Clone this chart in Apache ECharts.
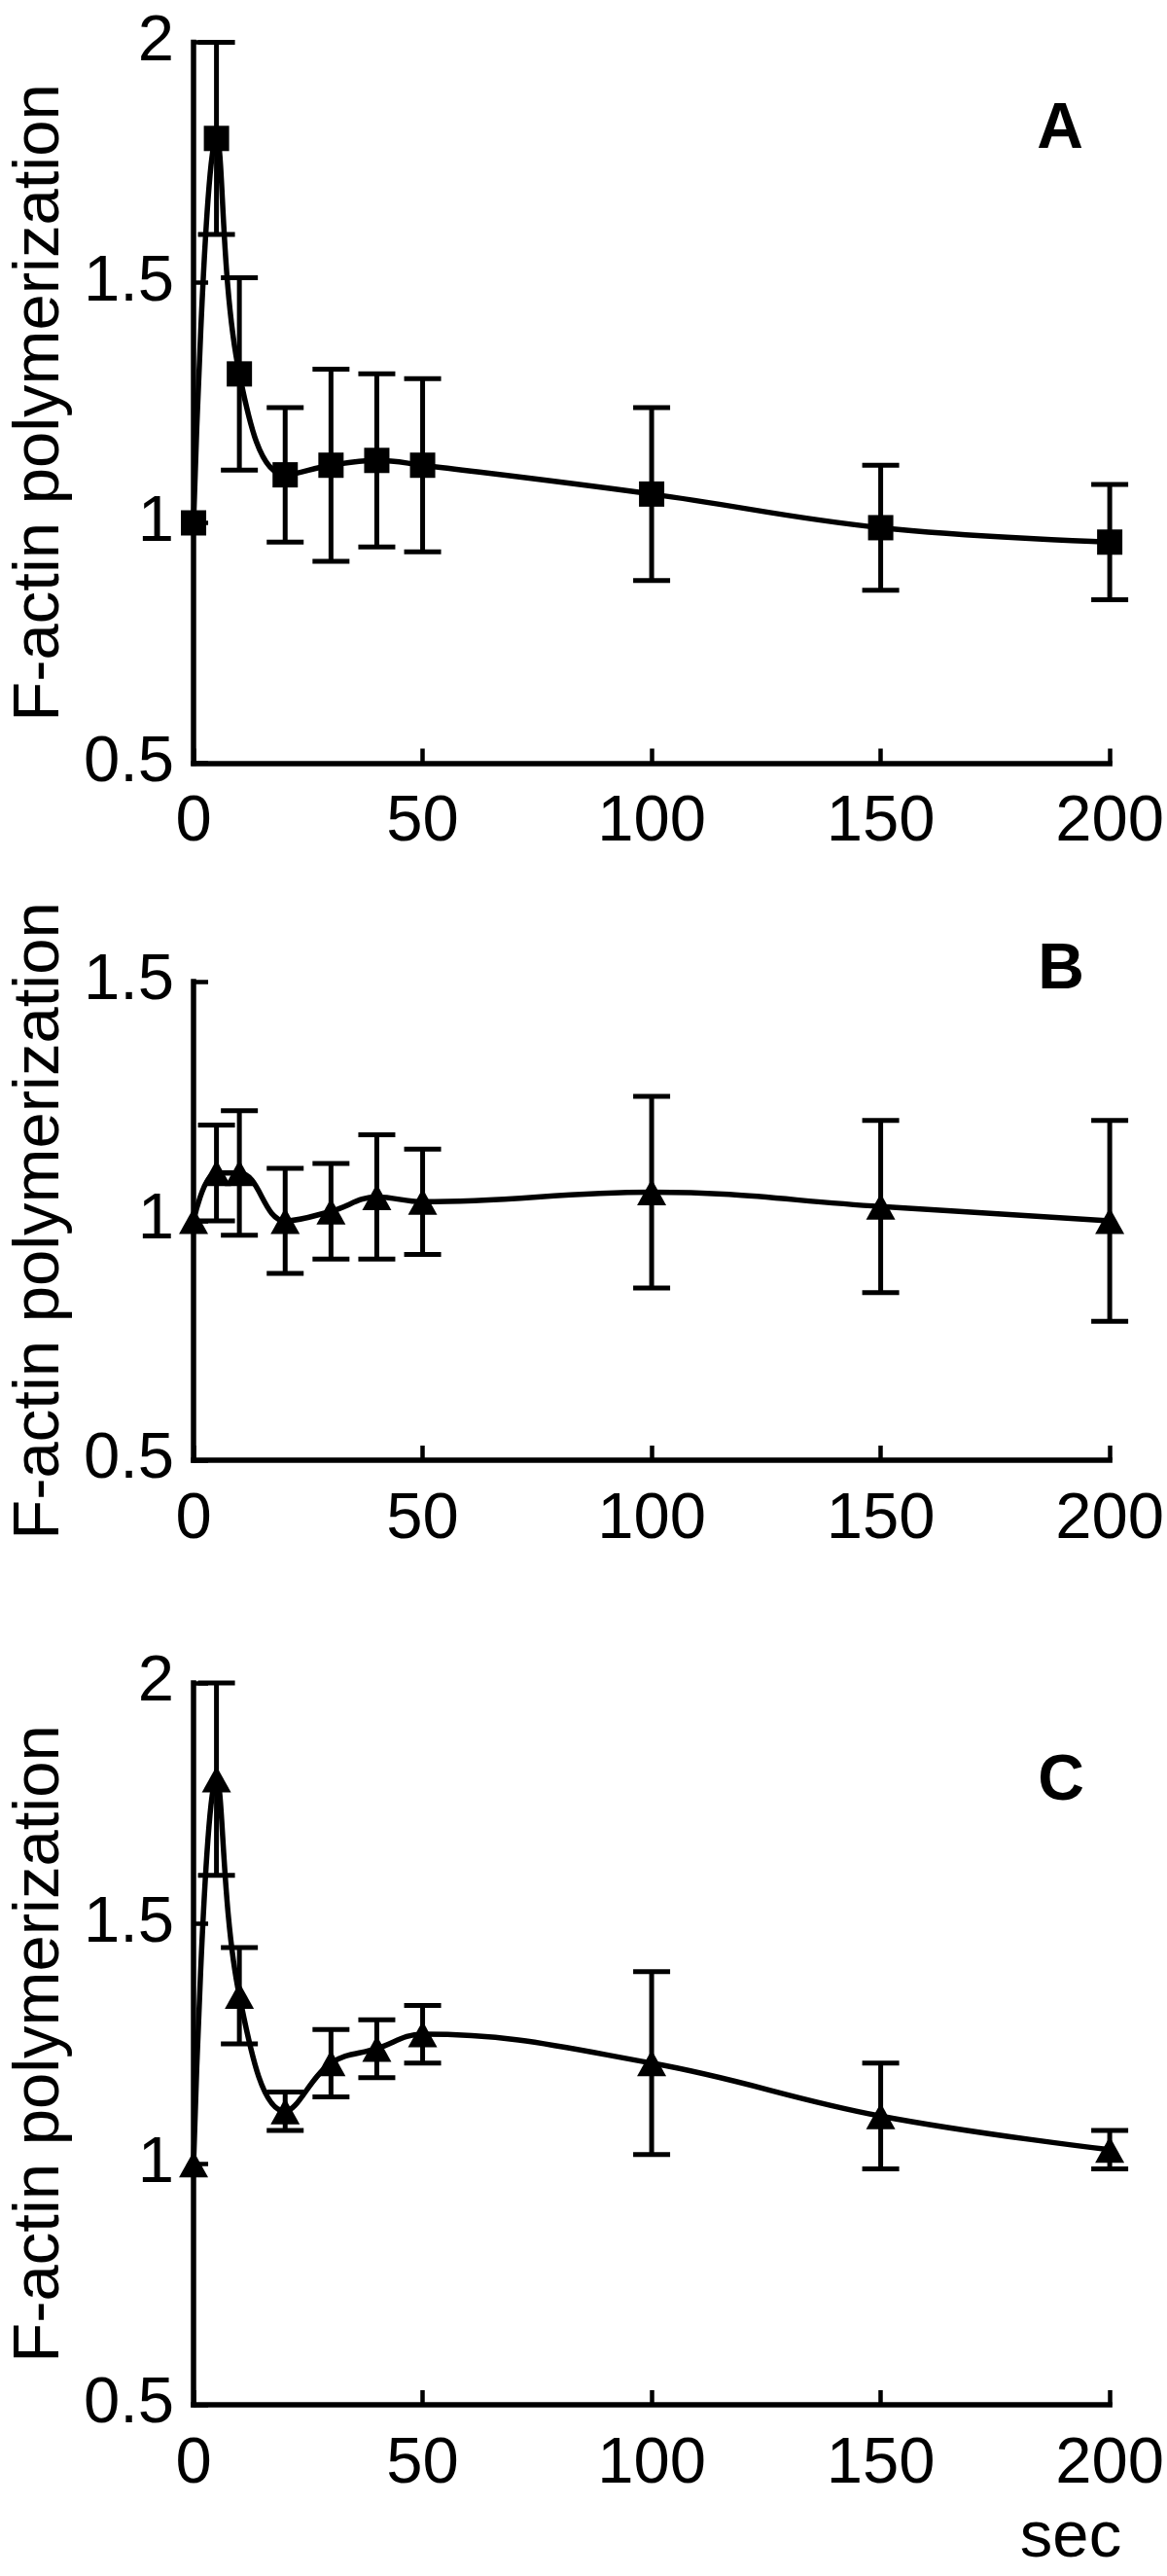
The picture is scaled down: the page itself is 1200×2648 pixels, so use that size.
<!DOCTYPE html>
<html>
<head>
<meta charset="utf-8">
<script src="https://cdn.jsdelivr.net/npm/echarts@6/dist/echarts.min.js"></script>
<style>
html,body{margin:0;padding:0;background:#fff;}
#chart{width:1200px;height:2648px;}
</style>
</head>
<body>
<div id="chart"></div>
<script>
// ---- data ----
const timeSec = [0, 5, 10, 20, 30, 40, 50, 100, 150, 200];
const xTicks = [0, 50, 100, 150, 200];

const meanA = [1.00, 1.80, 1.31, 1.10, 1.12, 1.13, 1.12, 1.06, 0.99, 0.96];
const errA  = [null, 0.20, 0.20, 0.14, 0.20, 0.18, 0.18, 0.18, 0.13, 0.12];

const meanB = [1.00, 1.10, 1.10, 1.00, 1.02, 1.05, 1.04, 1.06, 1.03, 1.00];
const errB  = [null, 0.10, 0.13, 0.11, 0.10, 0.13, 0.11, 0.20, 0.18, 0.21];

const meanC = [1.00, 1.80, 1.35, 1.11, 1.21, 1.24, 1.27, 1.21, 1.10, 1.03];
const errC  = [null, 0.20, 0.10, 0.04, 0.07, 0.06, 0.06, 0.19, 0.11, 0.04];

const yRangeA = [0.5, 2.0];
const yRangeB = [0.5, 1.5];
const yRangeC = [0.5, 2.0];
const panelLetters = ['A', 'B', 'C'];
const yTitle = 'F-actin polymerization';
const xUnit = 'sec';

// ---- styling ----
const FONT = "'Liberation Sans', Arial, Helvetica, sans-serif";
const INK = '#000';
const TICK_FS = 67;

const grids = [
  {left: 194, right: 57, top: 43.5, height: 741},
  {left: 194, right: 57, top: 1009, height: 492},
  {left: 194, right: 57, top: 1730, height: 742}
];

function xAxisCfg(i) {
  return {
    type: 'value', gridIndex: i, min: 0, max: 200, interval: 50,
    axisLine: {show: true, lineStyle: {color: INK, width: 5.5, cap: 'square'}},
    axisTick: {show: true, inside: true, length: 15, lineStyle: {color: INK, width: 4.5}},
    axisLabel: {color: INK, fontSize: TICK_FS, fontFamily: FONT, margin: 28},
    splitLine: {show: false}
  };
}
function yAxisCfg(i, range) {
  return {
    type: 'value', gridIndex: i, min: range[0], max: range[1], interval: 0.5,
    name: yTitle, nameLocation: 'middle', nameRotate: 90, nameGap: 112,
    nameTextStyle: {color: INK, fontSize: 67, fontFamily: FONT},
    axisLine: {show: true, lineStyle: {color: INK, width: 5.5, cap: 'square'}},
    axisTick: {show: true, inside: true, length: 15, lineStyle: {color: INK, width: 4.5}},
    axisLabel: {color: INK, fontSize: TICK_FS, fontFamily: FONT, margin: 20},
    splitLine: {show: false}
  };
}

function errData(mean, err) {
  const out = [];
  for (let k = 0; k < timeSec.length; k++) {
    if (err[k] == null) continue;
    out.push([timeSec[k], mean[k] - err[k], mean[k] + err[k]]);
  }
  return out;
}
function lineData(mean) {
  return timeSec.map((t, k) => [t, mean[k]]);
}

function renderErr(params, api) {
  const x = api.value(0);
  const pLo = api.coord([x, api.value(1)]);
  const pHi = api.coord([x, api.value(2)]);
  const hw = 19;
  const st = {stroke: INK, lineWidth: 5, fill: null};
  return {
    type: 'group',
    children: [
      {type: 'line', shape: {x1: pLo[0], y1: pLo[1], x2: pHi[0], y2: pHi[1]}, style: st},
      {type: 'line', shape: {x1: pHi[0] - hw, y1: pHi[1], x2: pHi[0] + hw, y2: pHi[1]}, style: st},
      {type: 'line', shape: {x1: pLo[0] - hw, y1: pLo[1], x2: pLo[0] + hw, y2: pLo[1]}, style: st}
    ]
  };
}

function panelSeries(i, mean, err, symbol, size) {
  return [
    {
      type: 'custom', xAxisIndex: i, yAxisIndex: i, z: 1,
      renderItem: renderErr, data: errData(mean, err), clip: false,
      encode: {x: 0, y: [1, 2]}
    },
    {
      type: 'line', xAxisIndex: i, yAxisIndex: i, z: 3,
      data: lineData(mean), smooth: 0.4,
      symbol: symbol, symbolSize: size, showAllSymbol: true,
      lineStyle: {color: INK, width: 5.5},
      itemStyle: {color: INK, borderWidth: 0},
      emphasis: {disabled: true}, animation: false
    }
  ];
}

const letterPos = [[1090, 134], [1091, 998], [1091, 1832]];

const option = {
  backgroundColor: '#fff',
  animation: false,
  grid: grids,
  xAxis: [xAxisCfg(0), xAxisCfg(1), xAxisCfg(2)],
  yAxis: [yAxisCfg(0, yRangeA), yAxisCfg(1, yRangeB), yAxisCfg(2, yRangeC)],
  series: [].concat(
    panelSeries(0, meanA, errA, 'rect', 26),
    panelSeries(1, meanB, errB, 'triangle', [30, 27]),
    panelSeries(2, meanC, errC, 'triangle', [30, 27])
  ),
  graphic: panelLetters.map((t, i) => ({
    type: 'text', x: letterPos[i][0], y: letterPos[i][1], z: 10,
    style: {text: t, fill: INK, font: 'bold 66px ' + FONT, textAlign: 'center', textVerticalAlign: 'middle'}
  })).concat([{
    type: 'text', x: 1101, y: 2610, z: 10,
    style: {text: xUnit, fill: INK, font: '67px ' + FONT, textAlign: 'center', textVerticalAlign: 'middle'}
  }])
};

const chart = echarts.init(document.getElementById('chart'), null, {renderer: 'canvas'});
chart.setOption(option);
</script>
</body>
</html>
